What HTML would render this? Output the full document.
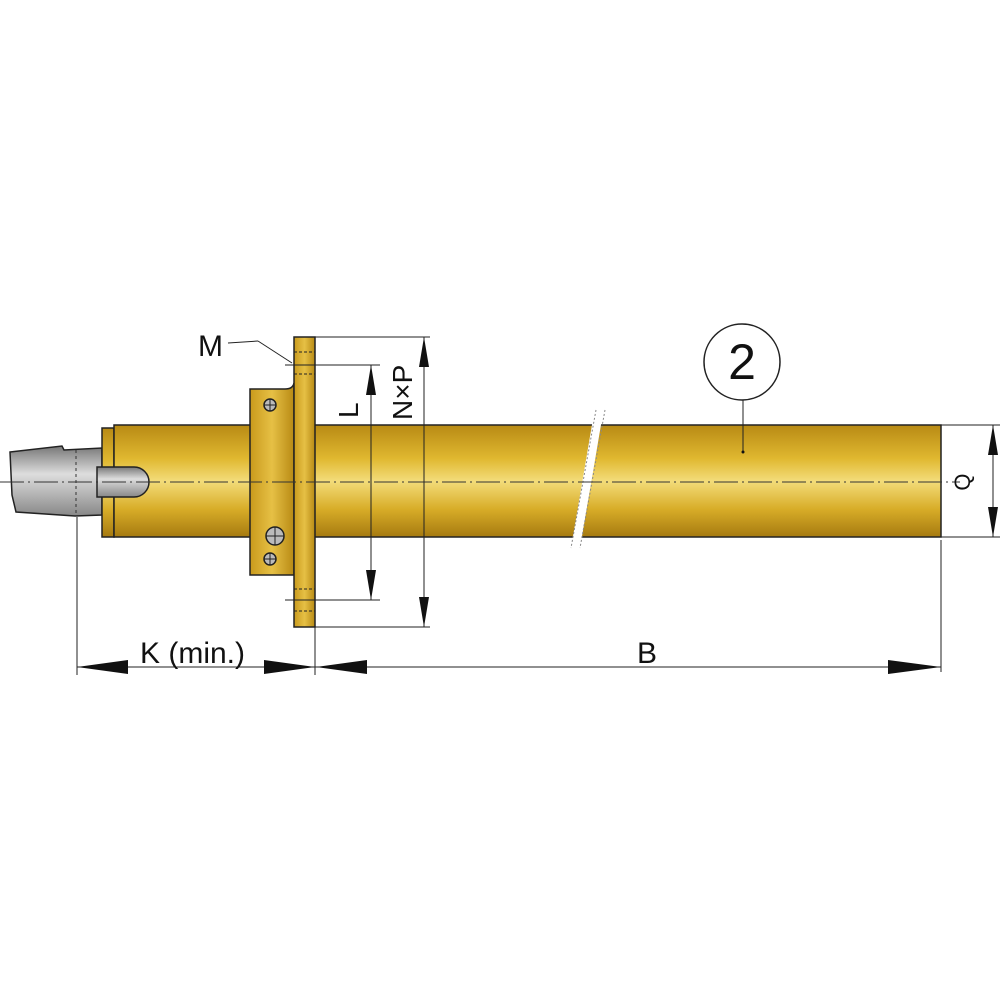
<!DOCTYPE html>
<html><head><style>body{margin:0;background:#fff}svg{display:block}</style></head><body>
<svg width="1000" height="1000" viewBox="0 0 1000 1000" xmlns="http://www.w3.org/2000/svg" font-family="Liberation Sans, sans-serif">
<defs>
<linearGradient id="br" x1="0" y1="0" x2="0" y2="1">
<stop offset="0" stop-color="#b88a14"/><stop offset="0.3" stop-color="#e0b830"/><stop offset="0.5" stop-color="#f3dc7a"/><stop offset="0.75" stop-color="#d8ad28"/><stop offset="1" stop-color="#a67a10"/></linearGradient>
<linearGradient id="gr" x1="0" y1="0" x2="0" y2="1">
<stop offset="0" stop-color="#777"/><stop offset="0.4" stop-color="#ddd"/><stop offset="1" stop-color="#888"/></linearGradient>
<linearGradient id="fl" x1="0" y1="0" x2="1" y2="0">
<stop offset="0" stop-color="#c99a1c"/><stop offset="0.5" stop-color="#e6c045"/><stop offset="1" stop-color="#b88a14"/></linearGradient>
</defs>
<path d="M10 452 L62 446 L64 450 L102 448 L102 515 L75 516 L16 512 L12 495 Z" fill="url(#gr)" stroke="#222" stroke-width="1.5"/>
<line x1="76" y1="450" x2="76" y2="515" stroke="#333" stroke-dasharray="3,3"/>
<rect x="102" y="428" width="12" height="109" fill="url(#br)" stroke="#222" stroke-width="1.5"/>
<rect x="114" y="425" width="827" height="112" fill="url(#br)" stroke="#222" stroke-width="1.5"/>
<path d="M97 467 L134 467 A15 15 0 0 1 134 497 L97 497 Z" fill="url(#gr)" stroke="#222" stroke-width="1.5"/>
<path d="M603 413 L594 413 L571 548 L580 548 Z" fill="#fff"/>
<line x1="605" y1="410" x2="580" y2="548" stroke="#888" stroke-width="1" stroke-dasharray="2,2"/>
<line x1="596" y1="410" x2="571" y2="548" stroke="#888" stroke-width="1" stroke-dasharray="2,2"/>
<path d="M250 389 L285 389 Q293 389 294 383 L294 575 L250 575 Z" fill="url(#fl)" stroke="#222" stroke-width="1.5"/>
<rect x="294" y="337" width="21" height="290" fill="url(#fl)" stroke="#222" stroke-width="1.5"/>
<g stroke="#222" stroke-width="1" stroke-dasharray="3,2"><line x1="294" y1="352" x2="315" y2="352"/><line x1="294" y1="374" x2="315" y2="374"/><line x1="294" y1="589" x2="315" y2="589"/><line x1="294" y1="611" x2="315" y2="611"/></g>
<g stroke="#222" stroke-width="1.5" fill="#bbb"><circle cx="270" cy="405" r="6"/><circle cx="275" cy="536" r="9"/><circle cx="270" cy="559" r="6"/></g>
<g stroke="#222" stroke-width="1"><line x1="264" y1="405" x2="276" y2="405"/><line x1="270" y1="399" x2="270" y2="411"/><line x1="266" y1="536" x2="284" y2="536"/><line x1="275" y1="527" x2="275" y2="545"/><line x1="264" y1="559" x2="276" y2="559"/><line x1="270" y1="553" x2="270" y2="565"/></g>
<line x1="0" y1="482" x2="960" y2="482" stroke="#333" stroke-width="1" stroke-dasharray="24,4,2,4"/>
<g stroke="#333" stroke-width="1"><line x1="371" y1="425" x2="371" y2="537"/><line x1="424" y1="425" x2="424" y2="537"/></g>
<g stroke="#222" stroke-width="1" fill="none">
<line x1="228" y1="343" x2="258" y2="341"/><line x1="258" y1="341" x2="292" y2="363"/>
<line x1="315" y1="337" x2="430" y2="337"/><line x1="315" y1="627" x2="430" y2="627"/>
<line x1="285" y1="365" x2="380" y2="365"/><line x1="285" y1="600" x2="380" y2="600"/>
<line x1="371" y1="365" x2="371" y2="600"/><line x1="424" y1="337" x2="424" y2="627"/>
<line x1="941" y1="425" x2="1000" y2="425"/><line x1="941" y1="537" x2="1000" y2="537"/>
<line x1="993" y1="425" x2="993" y2="537"/>
<line x1="77" y1="517" x2="77" y2="675"/><line x1="315" y1="627" x2="315" y2="675"/><line x1="941" y1="540" x2="941" y2="672"/>
<line x1="77" y1="667" x2="941" y2="667"/>
<line x1="743" y1="400" x2="743" y2="452"/>
<circle cx="742" cy="362" r="38" stroke-width="1.5"/>
</g>
<g fill="#111">
<path d="M371 365 L366 395 L376 395Z"/><path d="M371 600 L366 570 L376 570Z"/>
<path d="M424 337 L419 367 L429 367Z"/><path d="M424 627 L419 597 L429 597Z"/>
<path d="M993 425 L988 455 L998 455Z"/><path d="M993 537 L988 507 L998 507Z"/>
<path d="M77 667 L128 660 L128 674Z"/><path d="M315 667 L264 660 L264 674Z"/>
<path d="M316 667 L367 660 L367 674Z"/><path d="M941 667 L888 660 L888 674Z"/>
<circle cx="743" cy="452" r="1.5"/>
</g>
<g fill="#111" font-size="30">
<text x="198" y="356">M</text>
<text x="140" y="663">K (min.)</text>
<text x="637" y="663">B</text>
<text x="742" y="379" font-size="50" text-anchor="middle">2</text>
<text transform="translate(358,418) rotate(-90)" font-size="28">L</text>
<text transform="translate(412,420) rotate(-90)" font-size="28">N×P</text>
<text transform="translate(970,482) rotate(-90)" font-size="22" text-anchor="middle">Q</text>
</g>
</svg>
</body></html>
